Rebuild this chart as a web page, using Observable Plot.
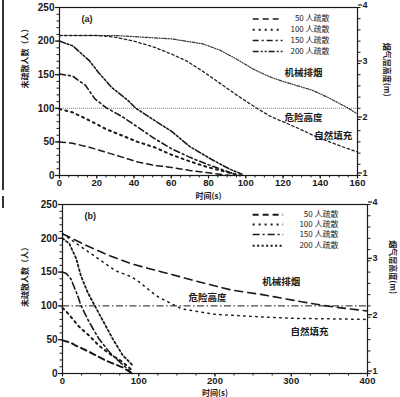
<!DOCTYPE html>
<html><head><meta charset="utf-8">
<script src="https://cdn.jsdelivr.net/npm/d3@7"></script>
<script src="https://cdn.jsdelivr.net/npm/@observablehq/plot@0.6"></script>
<style>
body{margin:0;background:#fff;width:400px;height:397px;position:relative;overflow:hidden}
#a,#b{position:absolute;left:0}
#a{top:0}
#b{top:197px}
svg{display:block}
.edge{position:absolute;left:2px;width:1.5px;background:#333;z-index:2}
</style></head><body>
<div id="a"></div><div id="b"></div>
<div class="edge" style="top:0;height:190px"></div>
<div class="edge" style="top:196px;height:12px"></div>
<script>
// ---------- data ----------
const leftTitle = "未疏散人数（人）";
const rightTitle = "烟气层高度(m)";
const xTitle = "时间(s)";
const seriesNames = ["50 人疏散", "100 人疏散", "150 人疏散", "200 人疏散"];
const smokeNames = ["机械排烟", "危险高度", "自然填充"];

// panel (a): time (s), people remaining
const a50  = [[0,50],[7,48],[16,42],[25,34.6],[34,27],[42,20],[51,15],[60,12],[70,7.5],[80,4],[88,1],[92,0]];
const a100 = [[0,99],[7,94],[16,82],[25,69],[34,59],[42,50],[51,42],[60,31],[70,21],[80,12],[90,5],[97,0]];
const a150 = [[0,151],[7,148],[14,134],[16,126],[19,114],[25,101],[34,87],[42,72],[51,55],[60,40],[70,27],[80,16],[90,6],[96,0]];
const a200 = [[0,200],[7,193],[16,171],[21,153],[28,131],[37,111],[41,100],[51,82],[60,66],[70,43],[81,25],[91,10],[98,2]];
// panel (a): time (s), smoke layer height (m)
const aMech = [[0,3.5],[30,3.5],[45,3.47],[60,3.44],[77,3.35],[86,3.24],[95,3.08],[104,2.9],[113,2.76],[120,2.68],[136,2.52],[145,2.38],[154,2.22],[160,2.1]];
const aNat  = [[0,3.5],[20,3.5],[30,3.47],[40,3.4],[51,3.29],[60,3.17],[68,3.05],[77,2.86],[86,2.65],[95,2.44],[106,2.2],[113,2.06],[120,1.96],[127,1.86],[136,1.72],[145,1.6],[153,1.5],[160,1.42]];
const aDanger = 100;

// panel (b)
const b50  = [[0,49],[10,46],[18,41],[35,32],[57,19],[79,9],[90,1]];
const b100 = [[0,97],[4,93],[22,69],[35,56],[48,41],[62,29],[79,17],[92,4]];
const b150 = [[0,150],[5,148],[11,140],[20,115],[24,101],[35,76],[48,51],[62,31],[75,17],[88,4],[91,0]];
const b200 = [[0,200],[9,192],[18,170],[24,145],[33,120],[42,101],[53,78],[66,51],[79,27],[92,12]];
const bMech = [[0,3.48],[30,3.28],[62,3.09],[92,2.94],[134,2.79],[178,2.63],[222,2.48],[262,2.4],[315,2.27],[341,2.21],[368,2.16],[400,2.11]];
const bNat  = [[0,3.48],[35,3.15],[70,2.82],[90,2.72],[101,2.62],[123,2.38],[134,2.3],[156,2.15],[200,2.05],[266,2.0],[300,1.98],[400,1.96]];
const bDanger = 100;

const leftTicks = [0,50,100,150,200,250];
const rightTicks = [1,2,3,4];
const aXTicks = [0,20,40,60,80,100,120,140,160];
const bXTicks = [0,100,200,300,400];

// ---------- helpers ----------
const toLeft = h => (h - 1) * 250 / 3;
const NUM = "'Liberation Sans', Arial, sans-serif";
const CJK = "'Noto Sans CJK SC', sans-serif";
const INK = "#1a1a1a";

function panel(o) {
  const line = (data, style, height) => Plot.line(data, {
    x: d => d[0], y: d => height ? toLeft(d[1]) : d[1],
    stroke: style.stroke || INK, strokeWidth: style.w, strokeDasharray: style.dash
  });
  const leg = o.legend;
  const legendSamples = seriesNames.map((n, i) => Plot.ruleY([leg.ys[i]], {
    x1: leg.x1, x2: leg.x2, stroke: INK,
    strokeWidth: o.peopleStyles[i].w, strokeDasharray: o.peopleStyles[i].dash
  }));
  return Plot.plot({
    width: 400, height: o.height,
    marginLeft: o.ml, marginRight: o.mr, marginTop: 7, marginBottom: o.mb,
    x: {domain: o.xDomain},
    y: {domain: [0, 250]},
    style: {fontFamily: NUM, fontSize: "10px", fontWeight: "bold", color: INK, background: "none"},
    marks: [
      Plot.frame({stroke: INK, strokeWidth: 1.2}),
      Plot.axisX({ticks: o.xMinor, tickSize: 2.5, text: null, label: null, strokeWidth: 1}),
      Plot.axisX({ticks: o.xTicks, tickSize: 3.5, tickPadding: 0.5, label: null, strokeWidth: 1.2, fontSize: 9.5}),
      Plot.axisY({ticks: d3.range(0, 251, 10), tickSize: 2.5, text: null, label: null}),
      Plot.axisY({ticks: leftTicks, tickSize: 4, tickPadding: 1, label: null, strokeWidth: 1.2}),
      Plot.axisY({anchor: "right", ticks: d3.range(1, 4.01, 0.2).map(toLeft), tickSize: 2.5, text: null, label: null}),
      Plot.axisY({anchor: "right", ticks: rightTicks.map(toLeft), tickSize: 4, tickPadding: 1, label: null, strokeWidth: 1.2,
                  fontSize: 9, dy: -2.5, tickFormat: v => String(Math.round(1 + v * 3 / 250))}),
      Plot.ruleY([o.danger], {stroke: o.dangerStyle.stroke, strokeWidth: o.dangerStyle.w, strokeDasharray: o.dangerStyle.dash}),
      line(o.mech, o.mechStyle, true),
      line(o.nat, o.natStyle, true),
      ...o.people.map((s, i) => line(s, o.peopleStyles[i], false)),
      // legend
      ...legendSamples,
      Plot.text(seriesNames.map((n, i) => ({n, i})), {
        x: leg.tx, y: d => leg.ys[d.i], text: d => d.n, textAnchor: "end", lineAnchor: "middle",
        fontFamily: CJK, fontSize: 8, fontWeight: "normal", fill: INK
      }),
      // curve labels
      Plot.text(smokeNames.map((n, i) => ({n, i})), {
        x: d => o.labels[d.i][0], y: d => o.labels[d.i][1], text: d => d.n,
        fontFamily: CJK, fontSize: 9.5, fontWeight: "bold", fill: INK
      }),
      Plot.text([o.tag], {frameAnchor: "top-left", dx: 22, dy: 8, text: d => d, fontSize: 9, fontWeight: "bold", fill: INK}),
      // axis titles
      Plot.text([leftTitle], {frameAnchor: "left", dx: o.ltdx, dy: o.ltdy, rotate: -90, text: d => d,
        fontFamily: CJK, fontSize: 8, fontWeight: "bold", fill: INK}),
      Plot.text([rightTitle], {frameAnchor: "right", dx: o.rtdx, dy: o.rtdy, rotate: 90, text: d => d,
        fontFamily: CJK, fontSize: 8, fontWeight: "bold", fill: INK}),
      Plot.text([xTitle], {frameAnchor: "bottom", dy: o.xtdy, lineAnchor: "middle", text: d => d,
        fontFamily: CJK, fontSize: 8, fontWeight: "bold", fill: INK})
    ]
  });
}

const aPeopleStyles = [
  {w: 1.5, dash: "6,4"},
  {w: 2, dash: "2,4"},
  {w: 1.6, dash: "6,3,2,3"},
  {w: 1.6, dash: "6,2,2,2,2,2"}
];
const bPeopleStyles = [
  {w: 2, dash: "6,4"},
  {w: 2, dash: "2,4"},
  {w: 1.6, dash: "7,3,2,3"},
  {w: 1.8, dash: "2,2.5"}
];

document.getElementById("a").append(panel({
  height: 201, ml: 59, mr: 43, mb: 26,
  xDomain: [0, 160], xTicks: aXTicks, xMinor: d3.range(0, 161, 5),
  danger: aDanger, dangerStyle: {stroke: "#888", w: 1, dash: "1,1"},
  mech: aMech, mechStyle: {stroke: "#333", w: 1.2, dash: "3,1.5,1,1.5,1,1.5"},
  nat: aNat, natStyle: {stroke: "#222", w: 1.3, dash: "2.5,2.5"},
  people: [a50, a100, a150, a200], peopleStyles: aPeopleStyles,
  legend: {x1: 104, x2: 120, tx: 145, ys: [233, 217, 201, 184.5]},
  labels: [[131, 153], [131, 86], [147, 59]],
  tag: "(a)",
  ltdx: -34, ltdy: -3, rtdx: 29, rtdy: 5, xtdy: 20.5
}));

document.getElementById("b").append(panel({
  height: 200, ml: 62, mr: 33, mb: 24,
  xDomain: [0, 400], xTicks: bXTicks, xMinor: d3.range(0, 401, 25),
  danger: bDanger, dangerStyle: {stroke: INK, w: 1, dash: "7,2.5,1.5,2.5"},
  mech: bMech, mechStyle: {stroke: INK, w: 1.6, dash: "8,5"},
  nat: bNat, natStyle: {stroke: INK, w: 1.5, dash: "1.5,4.5"},
  people: [b50, b100, b150, b200], peopleStyles: bPeopleStyles,
  legend: {x1: 250, x2: 290, tx: 362, ys: [235, 220.4, 205.6, 189]},
  labels: [[287, 136], [190, 112], [324, 62]],
  tag: "(b)",
  ltdx: -37, ltdy: 18, rtdx: 25, rtdy: 5, xtdy: 19.5
}));
</script>
</body></html>
